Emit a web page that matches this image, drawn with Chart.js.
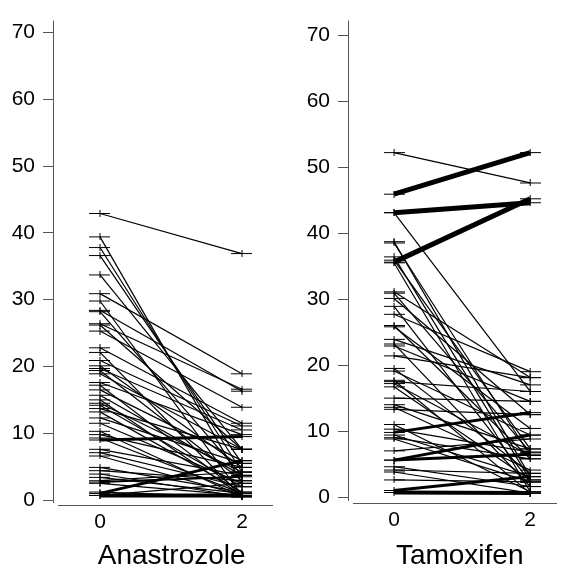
<!DOCTYPE html>
<html>
<head>
<meta charset="utf-8">
<script src="https://cdn.jsdelivr.net/npm/chart.js@4.4.1/dist/chart.umd.min.js"></script>
<style>
  body { margin: 0; background: #fff; }
  #wrap { position: relative; width: 566px; height: 569px; overflow: hidden; font-family: "Liberation Sans", Arial, sans-serif; }
  canvas { position: absolute; top: 0; }
  .ttl { position: absolute; width: 220px; text-align: center; font-size: 28px; line-height: 28px; color: #000; }
</style>
</head>
<body>
<div id="wrap">
  <canvas id="c1" width="283" height="569" style="left:0px"></canvas>
  <canvas id="c2" width="271" height="569" style="left:295px"></canvas>
  <div class="ttl" id="t1"></div>
  <div class="ttl" id="t2"></div>
</div>
<script>
// ---- data ----
const panelNames = ["Anastrozole", "Tamoxifen"];
const xTickValues = [0, 2];
const yTickValues = [0, 10, 20, 30, 40, 50, 60, 70];

// Anastrozole: value at time 0, value at time 2, number of patients sharing the trajectory
const anaBaseline = [42.9, 39.4, 37.8, 36.6, 33.7, 30.9, 29.8, 28.4, 28.2, 26.4, 26.2, 25.3, 22.8, 22.1, 20.9, 20.1, 19.7, 19.4, 18.9, 17.6, 17.2, 16.5, 15.7, 15.0, 14.5, 14.2, 13.7, 13.2, 12.3, 11.5, 10.3, 9.8, 9.3, 9.0, 7.6, 7.1, 6.6, 4.9, 4.4, 3.9, 3.4, 2.9, 2.7, 2.5, 1.2, 1.0, 0.7, 0.7];
const anaMonth2   = [36.9, 2.5, 4.2, 5.5, 7.6, 18.9, 0.7, 16.3, 3.7, 16.6, 7.6, 13.9, 11.5, 0.5, 11.1, 4.9, 10.5, 2.9, 7.6, 9.8, 1.0, 5.9, 3.7, 0.7, 4.2, 2.0, 7.6, 1.2, 5.5, 2.5, 0.5, 4.9, 1.0, 9.5, 3.7, 2.0, 0.7, 1.2, 2.9, 0.5, 1.0, 4.2, 3.5, 0.7, 0.5, 5.9, 0.7, 2.5];
const anaN        = [1, 1, 1, 1, 1, 1, 1, 1, 1, 1, 1, 1, 1, 1, 1, 1, 1, 1, 1, 1, 1, 1, 1, 1, 1, 1, 1, 1, 1, 1, 1, 1, 1, 3, 1, 1, 1, 1, 1, 1, 1, 1, 2, 1, 1, 3, 4, 1];

// Tamoxifen
const tamBaseline = [52.2, 45.9, 43.1, 43.1, 35.6, 38.7, 38.5, 36.4, 35.9, 35.5, 31.1, 30.9, 30.1, 28.9, 27.7, 26.0, 25.8, 23.9, 23.2, 22.9, 21.4, 19.5, 19.1, 17.7, 17.5, 17.2, 16.7, 15.0, 14.0, 13.6, 13.3, 11.0, 10.3, 9.8, 9.4, 9.0, 8.8, 7.0, 5.6, 5.6, 4.6, 4.1, 3.8, 2.6, 1.0, 0.7];
const tamMonth2   = [47.6, 52.2, 44.6, 16.0, 45.2, 3.1, 6.3, 2.6, 7.3, 0.8, 18.1, 6.8, 12.5, 2.3, 19.0, 5.8, 10.4, 17.0, 1.6, 14.5, 18.1, 3.6, 9.4, 0.6, 16.0, 6.3, 2.6, 14.5, 7.3, 4.1, 12.5, 0.8, 6.8, 12.8, 3.1, 5.8, 2.3, 8.8, 9.4, 6.5, 1.6, 3.6, 0.6, 2.3, 3.1, 0.6];
const tamN        = [1, 5, 5, 1, 5, 1, 1, 1, 1, 1, 1, 1, 1, 1, 1, 1, 1, 1, 1, 1, 1, 1, 1, 1, 1, 1, 1, 1, 1, 1, 1, 1, 1, 3, 1, 1, 1, 1, 3, 3, 1, 1, 1, 1, 3, 4];

// ---- marker: wide "+" ----
const cross = document.createElement('canvas');
cross.width = 21; cross.height = 7;
(function () {
  const g = cross.getContext('2d');
  g.fillStyle = '#000';
  g.fillRect(0, 3, 21, 1);
  g.fillRect(10, 0, 1, 7);
})();

Chart.defaults.font.family = '"Liberation Sans", Arial, sans-serif';
Chart.defaults.color = '#000';

const axisLines = {
  id: 'axisLines',
  afterDraw(chart) {
    const { ctx, chartArea: a } = chart;
    ctx.save();
    ctx.strokeStyle = '#555';
    ctx.lineWidth = 1;
    ctx.beginPath();
    const lx = Math.round(a.left) + 0.5;
    const by = Math.round(a.bottom) + 0.5;
    ctx.moveTo(lx, a.top);
    ctx.lineTo(lx, a.bottom - 2);
    ctx.moveTo(a.left + 5, by);
    ctx.lineTo(a.right, by);
    ctx.stroke();
    ctx.restore();
  }
};

function makePanel(id, base, m2, n, geo) {
  const datasets = base.map((b, i) => ({
    data: [{ x: xTickValues[0], y: b }, { x: xTickValues[1], y: m2[i] }],
    borderColor: '#000',
    backgroundColor: '#000',
    borderWidth: n[i] === 1 ? 1.2 : n[i],
    pointStyle: cross,
    pointRadius: 3,
    showLine: true,
    fill: false,
    tension: 0
  }));
  return new Chart(document.getElementById(id), {
    type: 'line',
    data: { datasets },
    options: {
      responsive: false,
      animation: false,
      events: [],
      clip: false,
      layout: { padding: { top: 13, right: geo.right, left: 0, bottom: 0 } },
      plugins: { legend: { display: false }, tooltip: { enabled: false } },
      scales: {
        x: {
          type: 'linear', min: geo.xmin, max: geo.xmax,
          grid: { display: false, drawTicks: false },
          border: { display: false },
          ticks: { font: { size: 21 }, color: '#000', padding: 5 },
          afterBuildTicks: s => { s.ticks = xTickValues.map(v => ({ value: v })); },
          afterFit: s => { s.height = geo.xh; }
        },
        y: {
          type: 'linear', min: geo.ymin, max: geo.ymax,
          grid: { display: true, drawOnChartArea: false, drawTicks: true, tickLength: 10, color: '#555' },
          border: { display: false },
          ticks: { font: { size: 21 }, color: '#000', padding: 8 },
          afterBuildTicks: s => { s.ticks = yTickValues.map(v => ({ value: v })); },
          afterFit: s => { s.width = 53; }
        }
      }
    },
    plugins: [axisLines]
  });
}

makePanel('c1', anaBaseline, anaMonth2, anaN, { xmin: -0.662, xmax: 2.437, ymin: -0.737, ymax: 71.77, right: 10, xh: 64 });
makePanel('c2', tamBaseline, tamMonth2, tamN, { xmin: -0.676, xmax: 2.394, ymin: -0.9, ymax: 72.2, right: 0, xh: 66 });

const t1 = document.getElementById('t1');
t1.textContent = panelNames[0];
t1.style.left = (171.7 - 110) + 'px';
t1.style.top = '541px';
const t2 = document.getElementById('t2');
t2.textContent = panelNames[1];
t2.style.left = (459.7 - 110) + 'px';
t2.style.top = '541px';
</script>
</body>
</html>
